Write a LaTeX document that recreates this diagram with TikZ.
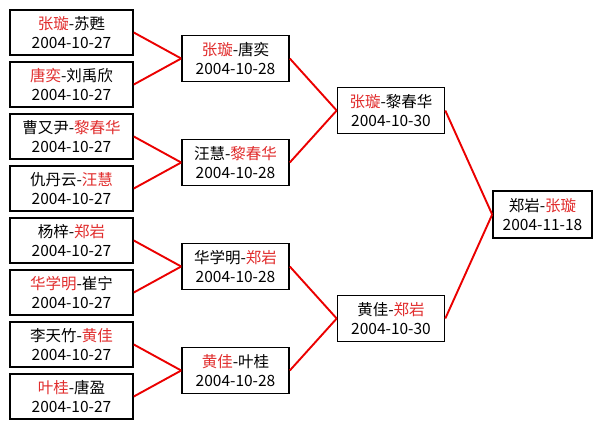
\documentclass[tikz,border=0pt]{standalone}
\usepackage{fontspec}
\setmainfont{Noto Sans CJK SC}
\usetikzlibrary{positioning}
\definecolor{winred}{RGB}{225,45,45}
\definecolor{linkred}{RGB}{235,0,0}
\newcommand{\win}[1]{\textcolor{winred}{#1}}

\begin{document}
\begin{tikzpicture}[x=1pt,y=-1pt,
  game/.style={draw=black, line width=1.6pt, fill=white, align=center,
    inner sep=0pt, font=\fontsize{15.5pt}{19pt}\selectfont},
  r1/.style={game, minimum width=123pt, minimum height=45pt},
  r2/.style={game, minimum width=107pt, minimum height=46pt},
  fin/.style={game, minimum width=99pt, minimum height=47pt},
  link/.style={draw=linkred, line width=1.9pt}]
\useasboundingbox [fill=white] (0,0) rectangle (603,429);
% first round
\node [r1] (a1) at (71.5,32.5)  {\win{张璇}-苏甦\\2004-10-27};
\node [r1] (a2) at (71.5,84.5)  {\win{唐奕}-刘禹欣\\2004-10-27};
\node [r1] (a3) at (71.5,136.5) {曹又尹-\win{黎春华}\\2004-10-27};
\node [r1] (a4) at (71.5,188.5) {仇丹云-\win{汪慧}\\2004-10-27};
\node [r1] (a5) at (71.5,240.5) {杨梓-\win{郑岩}\\2004-10-27};
\node [r1] (a6) at (71.5,292.5) {\win{华学明}-崔宁\\2004-10-27};
\node [r1] (a7) at (71.5,344.5) {李天竹-\win{黄佳}\\2004-10-27};
\node [r1] (a8) at (71.5,396.5) {\win{叶桂}-唐盈\\2004-10-27};
% second round
\node [r2] (b1) at (235.5,58.5)  {\win{张璇}-唐奕\\2004-10-28};
\node [r2] (b2) at (235.5,162.5) {汪慧-\win{黎春华}\\2004-10-28};
\node [r2] (b3) at (235.5,266.5) {华学明-\win{郑岩}\\2004-10-28};
\node [r2] (b4) at (235.5,370.5) {\win{黄佳}-叶桂\\2004-10-28};
% semi final
\node [r2] (c1) at (391,110.5) {\win{张璇}-黎春华\\2004-10-30};
\node [r2] (c2) at (391,318.5) {黄佳-\win{郑岩}\\2004-10-30};
% final
\node [fin] (d1) at (542.5,214.5) {郑岩-\win{张璇}\\2004-11-18};
% links
\foreach \from/\to in {a1/b1,a2/b1,a3/b2,a4/b2,a5/b3,a6/b3,a7/b4,a8/b4,
                       b1/c1,b2/c1,b3/c2,b4/c2,c1/d1,c2/d1}
  \draw [link] (\from.east) -- (\to.west);
\end{tikzpicture}
\end{document}
